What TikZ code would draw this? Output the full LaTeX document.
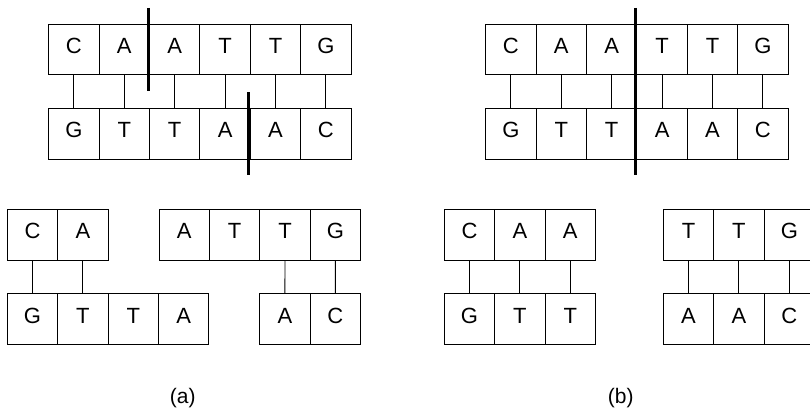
\documentclass[tikz,border=0pt]{standalone}
\usepackage{fontspec}
\setmainfont{Liberation Sans}
\begin{document}
\begin{tikzpicture}[x=1pt,y=-1pt,
  base/.style={draw, line width=0.9pt, minimum size=50.4pt, inner sep=0pt,
    text height=16pt, text depth=8pt, font=\fontsize{22}{22}\selectfont},
  pair/.style={line width=0.9pt},
  cutline/.style={line width=3pt},
  caption/.style={font=\fontsize{21}{21}\selectfont}]
\useasboundingbox (0,0) rectangle (810,412);
\clip (0,0) rectangle (810,412);
\newcommand\dnastrand[4]{%
  \foreach \L [count=\i] in {#4} {\node[base] (#1\i) at ({#2+25.2+50.4*(\i-1)},#3) {\L};}}
% (a) top
\dnastrand{aT}{48.7}{49.7}{C,A,A,T,T,G}
\dnastrand{aB}{48.7}{133.9}{G,T,T,A,A,C}
\foreach \i in {1,...,6} {\draw[pair] (aT\i.south) -- (aB\i.north);}
\coordinate (c1s) at (148,8); \coordinate (c1e) at (148,91);
\coordinate (c2s) at (248.7,92.3); \coordinate (c2e) at (248.7,175.3);
\draw[cutline] (c1s) -- (c1e);
\draw[cutline] (c2s) -- (c2e);
% (b) top
\dnastrand{bT}{485.7}{49.7}{C,A,A,T,T,G}
\dnastrand{bB}{485.7}{133.9}{G,T,T,A,A,C}
\foreach \i in {1,...,6} {\draw[pair] (bT\i.south) -- (bB\i.north);}
\coordinate (c3s) at (635.7,8); \coordinate (c3e) at (635.7,175.3);
\draw[cutline] (c3s) -- (c3e);
% (a) bottom
\dnastrand{aLT}{7.3}{234.8}{C,A}
\dnastrand{aLB}{7.3}{319}{G,T,T,A}
\dnastrand{aRT}{159}{234.8}{A,T,T,G}
\dnastrand{aRB}{259.7}{319}{A,C}
\draw[pair] (aLT1.south) -- (aLB1.north);
\draw[pair] (aLT2.south) -- (aLB2.north);
\draw[pair] (aRT3.south) -- (aRB1.north);
\draw[pair] (aRT4.south) -- (aRB2.north);
% (b) bottom
\dnastrand{bLT}{444.3}{234.8}{C,A,A}
\dnastrand{bLB}{444.3}{319}{G,T,T}
\dnastrand{bRT}{663.3}{234.8}{T,T,G}
\dnastrand{bRB}{663.3}{319}{A,A,C}
\foreach \i in {1,2,3} {\draw[pair] (bLT\i.south) -- (bLB\i.north);
  \draw[pair] (bRT\i.south) -- (bRB\i.north);}
% captions
\node[caption] (capa) at (182.7,398) {(a)};
\node[caption] (capb) at (620.7,398) {(b)};
\end{tikzpicture}
\end{document}
